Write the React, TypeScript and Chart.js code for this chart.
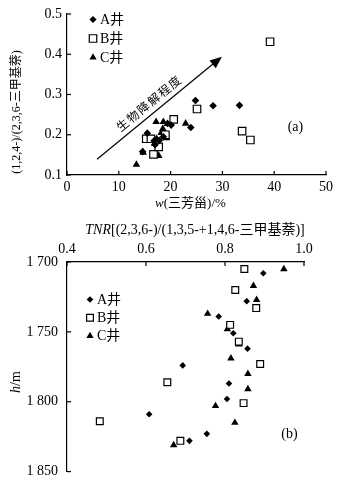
import React, { useEffect, useRef } from 'react';
import { Chart, registerables } from 'chart.js';

Chart.register(...registerables);

// ---------- Data: panel (a) ----------
const seriesLabels = ['A井', 'B井', 'C井'];
const topA: [number, number][] = [
  [24.8, 0.285], [28.2, 0.272], [33.3, 0.273], [23.9, 0.218], [20.1, 0.224], [15.5, 0.204],
  [14.6, 0.158], [17.0, 0.175], [17.8, 0.186], [18.6, 0.195], [19.4, 0.228], [16.8, 0.185],
];
const topB: [number, number][] = [
  [39.2, 0.431], [25.1, 0.264], [20.6, 0.238], [33.8, 0.209], [35.4, 0.187], [15.3, 0.190],
  [16.2, 0.190], [16.7, 0.151], [17.7, 0.170], [19.0, 0.200],
];
const topC: [number, number][] = [
  [13.4, 0.126], [14.7, 0.156], [17.2, 0.232], [18.6, 0.232], [19.4, 0.227], [22.9, 0.228],
  [17.7, 0.148], [18.5, 0.215], [19.2, 0.192], [17.3, 0.190], [18.2, 0.205], [16.9, 0.178],
];
const topXTicks = [0, 10, 20, 30, 40, 50];
const topYTicks = [0.1, 0.2, 0.3, 0.4, 0.5];
const arrowFrom: [number, number] = [5.8, 0.139];
const arrowTo: [number, number] = [29.9, 0.394];
const arrowText = '生物降解程度';
const labelA = '(a)';
const labelAPos: [number, number] = [44.1, 0.219];

// ---------- Data: panel (b) ----------
const botA: [number, number][] = [
  [0.897, 1708], [0.855, 1728], [0.784, 1739], [0.821, 1751], [0.857, 1762], [0.693, 1774],
  [0.810, 1787], [0.805, 1798], [0.608, 1809], [0.754, 1823], [0.710, 1828],
];
const botB: [number, number][] = [
  [0.849, 1705], [0.826, 1720], [0.879, 1733], [0.813, 1745], [0.835, 1757], [0.889, 1773],
  [0.654, 1786], [0.847, 1801], [0.483, 1814], [0.687, 1828],
];
const botC: [number, number][] = [
  [0.949, 1705], [0.872, 1717], [0.880, 1727], [0.756, 1737], [0.806, 1748], [0.835, 1759],
  [0.815, 1769], [0.858, 1780], [0.858, 1791], [0.776, 1803], [0.825, 1815], [0.670, 1831],
];
const botXTicks = [0.4, 0.6, 0.8, 1.0];
const botYTicks = [1700, 1750, 1800, 1850];
const labelB = '(b)';
const labelBPos: [number, number] = [0.963, 1823];

const FAM = '"Liberation Serif", "DejaVu Serif", "Noto Sans CJK SC", serif';
const font = (size: number, italic = false) => `${italic ? 'italic ' : ''}${size}px ${FAM}`;

type Part = { t: string; i?: boolean };

function drawMixed(ctx: CanvasRenderingContext2D, parts: Part[], cx: number, cy: number, size: number, rot = 0) {
  ctx.save();
  let total = 0;
  const widths = parts.map((p) => {
    ctx.font = font(size, p.i);
    const w = ctx.measureText(p.t).width;
    total += w;
    return w;
  });
  ctx.translate(cx, cy);
  ctx.rotate(rot);
  ctx.fillStyle = '#000';
  ctx.textBaseline = 'middle';
  ctx.textAlign = 'left';
  let x = -total / 2;
  parts.forEach((p, k) => {
    ctx.font = font(size, p.i);
    ctx.fillText(p.t, x, 0);
    x += widths[k];
  });
  ctx.restore();
}

function drawMarker(ctx: CanvasRenderingContext2D, kind: number, x: number, y: number, s: number) {
  ctx.save();
  ctx.beginPath();
  if (kind === 0) {
    ctx.moveTo(x, y - s); ctx.lineTo(x + s, y); ctx.lineTo(x, y + s); ctx.lineTo(x - s, y); ctx.closePath();
    ctx.fillStyle = '#000'; ctx.fill();
  } else if (kind === 1) {
    const h = s * Math.SQRT1_2;
    ctx.rect(x - h, y - h, 2 * h, 2 * h);
    ctx.fillStyle = '#fff'; ctx.fill();
    ctx.lineWidth = 1.2; ctx.strokeStyle = '#000'; ctx.stroke();
  } else {
    const h = s * 1.5;
    const w = s * Math.sqrt(3);
    ctx.moveTo(x, y - s); ctx.lineTo(x + w / 2, y - s + h); ctx.lineTo(x - w / 2, y - s + h); ctx.closePath();
    ctx.fillStyle = '#000'; ctx.fill();
  }
  ctx.restore();
}

const inwardTicks = {
  id: 'inwardTicks',
  afterDatasetsDraw(chart: any) {
    const { ctx, chartArea } = chart;
    ctx.save();
    ctx.strokeStyle = '#000';
    ctx.lineWidth = 1.2;
    Object.values(chart.scales).forEach((s: any) => {
      s.ticks.forEach((t: any) => {
        const p = s.getPixelForValue(t.value);
        ctx.beginPath();
        if (s.axis === 'x') {
          const y = s.position === 'top' ? chartArea.top : chartArea.bottom;
          const d = s.position === 'top' ? 4 : -4;
          ctx.moveTo(p, y); ctx.lineTo(p, y + d);
        } else {
          ctx.moveTo(chartArea.left, p); ctx.lineTo(chartArea.left + 4, p);
        }
        ctx.stroke();
      });
    });
    ctx.restore();
  },
};

function legendPlugin(x: number, y0: number, dy: number, sizes: number[]) {
  return {
    id: 'legendCustom',
    afterDraw(chart: any) {
      const ctx = chart.ctx;
      chart.data.datasets.forEach((ds: any, k: number) => {
        const y = y0 + k * dy;
        drawMarker(ctx, k, x, y, sizes[k]);
        ctx.save();
        ctx.font = font(14);
        ctx.fillStyle = '#000';
        ctx.textBaseline = 'middle';
        ctx.fillText(ds.label, x + 7, y + 0.5);
        ctx.restore();
      });
    },
  };
}

const topDecor = {
  id: 'topDecor',
  afterDraw(chart: any) {
    const ctx = chart.ctx;
    const xs = chart.scales.x, ys = chart.scales.y;
    // arrow
    const x1 = xs.getPixelForValue(arrowFrom[0]), y1 = ys.getPixelForValue(arrowFrom[1]);
    const x2 = xs.getPixelForValue(arrowTo[0]), y2 = ys.getPixelForValue(arrowTo[1]);
    const ang = Math.atan2(y2 - y1, x2 - x1);
    const len = Math.hypot(x2 - x1, y2 - y1);
    ctx.save();
    ctx.strokeStyle = '#000';
    ctx.fillStyle = '#000';
    ctx.lineWidth = 1.2;
    ctx.beginPath();
    ctx.moveTo(x1, y1);
    ctx.lineTo(x2 - Math.cos(ang) * 8, y2 - Math.sin(ang) * 8);
    ctx.stroke();
    ctx.translate(x2, y2);
    ctx.rotate(ang);
    ctx.beginPath();
    ctx.moveTo(0, 0); ctx.lineTo(-12, -5); ctx.lineTo(-12, 5); ctx.closePath();
    ctx.fill();
    ctx.restore();
    // arrow text
    const ux = Math.cos(ang), uy = Math.sin(ang);
    const nx = uy, ny = -ux; // normal pointing up-left
    const t = 0.47 * len;
    const cx = x1 + ux * t + nx * 9;
    const cy = y1 + uy * t + ny * 9;
    ctx.save();
    ctx.translate(cx, cy);
    ctx.rotate(ang);
    ctx.font = font(12);
    (ctx as any).letterSpacing = '1.5px';
    ctx.fillStyle = '#000';
    ctx.textAlign = 'center';
    ctx.textBaseline = 'middle';
    ctx.fillText(arrowText, 0, 0);
    ctx.restore();
    // (a)
    ctx.save();
    ctx.font = font(14);
    ctx.fillStyle = '#000';
    ctx.textAlign = 'center';
    ctx.textBaseline = 'middle';
    ctx.fillText(labelA, xs.getPixelForValue(labelAPos[0]), ys.getPixelForValue(labelAPos[1]));
    ctx.restore();
    // axis titles
    drawMixed(ctx, [{ t: 'w', i: true }, { t: '(三芳甾)/%' }], (xs.left + xs.right) / 2 - 6, 204, 13);
    drawMixed(ctx, [{ t: '(1,2,4-)/(2,3,6-三甲基萘)' }], 17, 112, 12, -Math.PI / 2);
  },
};

const botDecor = {
  id: 'botDecor',
  afterDraw(chart: any) {
    const ctx = chart.ctx;
    const xs = chart.scales.x, ys = chart.scales.y;
    ctx.save();
    ctx.font = font(14);
    ctx.fillStyle = '#000';
    ctx.textAlign = 'center';
    ctx.textBaseline = 'middle';
    ctx.fillText(labelB, xs.getPixelForValue(labelBPos[0]), ys.getPixelForValue(labelBPos[1]));
    ctx.restore();
    drawMixed(ctx, [{ t: 'TNR', i: true }, { t: '[(2,3,6-)/(1,3,5-+1,4,6-三甲基萘)]' }], 195, 12.5, 14);
    drawMixed(ctx, [{ t: 'h', i: true }, { t: '/m' }], 16, 164, 14, -Math.PI / 2);
  },
};

function toXY(arr: [number, number][]) {
  return arr.map(([x, y]) => ({ x, y }));
}

function makeDatasets(a: [number, number][], b: [number, number][], c: [number, number][], r: number[]) {
  return [
    { label: seriesLabels[0], data: toXY(a), pointStyle: 'rectRot', radius: r[0], backgroundColor: '#000', borderColor: '#000', borderWidth: 0 },
    { label: seriesLabels[1], data: toXY(b), pointStyle: 'rect', radius: r[1], backgroundColor: '#fff', borderColor: '#000', borderWidth: 1.2 },
    { label: seriesLabels[2], data: toXY(c), pointStyle: 'triangle', radius: r[2], backgroundColor: '#000', borderColor: '#000', borderWidth: 0 },
  ];
}

const tickFont = { family: FAM, size: 14 };

export default function App() {
  const topRef = useRef<HTMLCanvasElement>(null);
  const botRef = useRef<HTMLCanvasElement>(null);

  useEffect(() => {
    const c1 = new Chart(topRef.current!, {
      type: 'scatter',
      data: { datasets: makeDatasets(topA, topB, topC, [3.8, 5.3, 4.4]) as any },
      options: {
        animation: false,
        responsive: false,
        devicePixelRatio: 1,
        layout: { padding: { left: 0, right: 15, top: 14, bottom: 0 }, autoPadding: false } as any,
        plugins: { legend: { display: false }, tooltip: { enabled: false } },
        scales: {
          x: {
            type: 'linear', position: 'bottom', min: 0, max: 50,
            afterBuildTicks: (s: any) => { s.ticks = topXTicks.map((v) => ({ value: v })); },
            ticks: { color: '#000', font: tickFont, padding: 4, maxRotation: 0, callback: (v: any) => String(v) },
            grid: { display: false, drawTicks: false },
            border: { display: true, color: '#000', width: 1.2 },
            afterFit: (s: any) => { s.height = 43; },
          },
          y: {
            type: 'linear', position: 'left', min: 0.1, max: 0.5,
            afterBuildTicks: (s: any) => { s.ticks = topYTicks.map((v) => ({ value: v })); },
            ticks: { color: '#000', font: tickFont, padding: 5, callback: (v: any) => Number(v).toFixed(1) },
            grid: { display: false, drawTicks: false },
            border: { display: true, color: '#000', width: 1.2 },
            afterFit: (s: any) => { s.width = 67; },
          },
        },
      },
      plugins: [inwardTicks, topDecor, legendPlugin(93, 19.5, 19, [3.6, 5.3, 4.2])],
    });

    const c2 = new Chart(botRef.current!, {
      type: 'scatter',
      data: { datasets: makeDatasets(botA, botB, botC, [3.3, 4.8, 4.3]) as any },
      options: {
        animation: false,
        responsive: false,
        devicePixelRatio: 1,
        layout: { padding: { left: 0, right: 37, top: 0, bottom: 13 }, autoPadding: false } as any,
        plugins: { legend: { display: false }, tooltip: { enabled: false } },
        scales: {
          x: {
            type: 'linear', position: 'top', min: 0.4, max: 1.0,
            afterBuildTicks: (s: any) => { s.ticks = botXTicks.map((v) => ({ value: v })); },
            ticks: { color: '#000', font: tickFont, padding: 4, maxRotation: 0, callback: (v: any) => Number(v).toFixed(1) },
            grid: { display: false, drawTicks: false },
            border: { display: true, color: '#000', width: 1.2 },
            afterFit: (s: any) => { s.height = 44; },
          },
          y: {
            type: 'linear', position: 'left', min: 1700, max: 1850, reverse: true,
            afterBuildTicks: (s: any) => { s.ticks = botYTicks.map((v) => ({ value: v })); },
            ticks: {
              color: '#000', font: tickFont, padding: 9,
              callback: (v: any) => `${Math.floor(Number(v) / 1000)} ${String(Number(v) % 1000).padStart(3, '0')}`,
            },
            grid: { display: false, drawTicks: false },
            border: { display: true, color: '#000', width: 1.2 },
            afterFit: (s: any) => { s.width = 67; },
          },
        },
      },
      plugins: [inwardTicks, botDecor, legendPlugin(90, 81.5, 18.2, [3.3, 4.8, 4.2])],
    });

    return () => {
      c1.destroy();
      c2.destroy();
    };
  }, []);

  return (
    <div style={{ position: 'fixed', left: 0, top: 0, width: 341, height: 489, background: '#fff' }}>
      <canvas ref={topRef} width={341} height={218} style={{ display: 'block', width: 341, height: 218 }} />
      <canvas ref={botRef} width={341} height={271} style={{ display: 'block', width: 341, height: 271 }} />
    </div>
  );
}
